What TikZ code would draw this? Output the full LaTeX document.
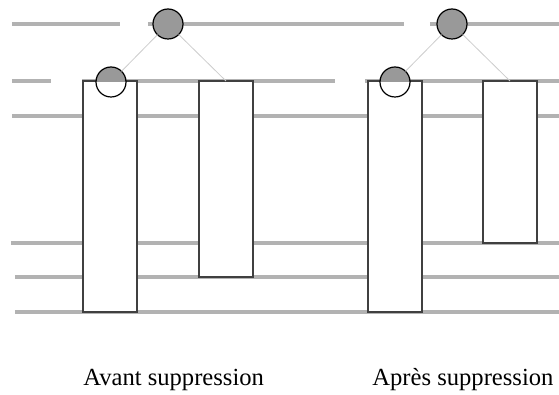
\documentclass[tikz,border=0pt]{standalone}
\usepackage{fontspec}
\setmainfont{Liberation Serif}
\tikzset{
	rail/.style={line width=2pt, black!30},
	bloc/.style={rectangle, draw=black!75, fill=white, line width=0.6pt, anchor=north west, minimum width=27pt, inner sep=0pt, outer sep=0pt},
	racine/.style={circle, draw=black, fill=black!40, line width=0.6pt, minimum size=15pt, inner sep=0pt, outer sep=0pt},
	fils/.style={circle, draw=black, fill=white, line width=0.6pt, minimum size=15pt, inner sep=0pt, outer sep=0pt,
		path picture={\fill[black!40] (path picture bounding box.west) rectangle (path picture bounding box.north east);}},
	lien/.style={black!20, line width=0.4pt},
	legende/.style={anchor=base west, inner sep=0pt, font=\fontsize{12.3pt}{15pt}\selectfont}
}
\begin{document}
\begin{tikzpicture}[x=0.5pt,y=-0.5pt]
	\useasboundingbox (0,0) rectangle (559,395);
	\draw[rail] (12,24) -- (120,24);
	\draw[rail] (148,24) -- (404,24);
	\draw[rail] (430,24) -- (559,24);
	\draw[rail] (12,81) -- (51,81);
	\draw[rail] (82,81) -- (335,81);
	\draw[rail] (365,81) -- (559,81);
	\draw[rail] (12,116) -- (559,116);
	\draw[rail] (11,243) -- (559,243);
	\draw[rail] (15,277) -- (559,277);
	\draw[rail] (15,312) -- (559,312);
	% avant
	\node[bloc, minimum height=115.5pt] (a1) at (83,81) {};
	\node[bloc, minimum height=98pt] (a2) at (199,81) {};
	\node[racine] (r1) at (168,24) {};
	\node[fils] (c1) at (111,82) {};
	\draw[lien] (r1) -- (c1);
	\draw[lien] (r1) -- (a2.north);
	% apres
	\node[bloc, minimum height=115.5pt] (b1) at (368,81) {};
	\node[bloc, minimum height=81pt] (b2) at (483,81) {};
	\node[racine] (r2) at (452,24) {};
	\node[fils] (c2) at (395,82) {};
	\draw[lien] (r2) -- (c2);
	\draw[lien] (r2) -- (b2.north);
	\node[legende] (t1) at (83,386) {Avant suppression};
	\node[legende] (t2) at (372,386) {Après suppression};
\end{tikzpicture}
\end{document}
